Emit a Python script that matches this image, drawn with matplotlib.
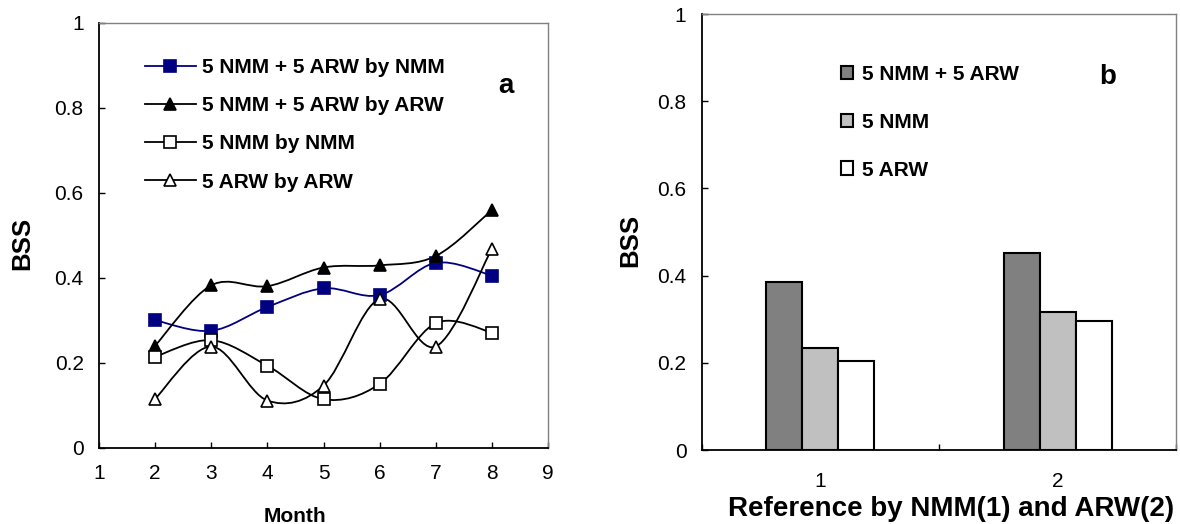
import matplotlib
matplotlib.use("Agg")
import matplotlib.pyplot as plt
from matplotlib.path import Path
from matplotlib.patches import PathPatch
from matplotlib.lines import Line2D
import numpy as np

plt.rcParams['font.family'] = ['Liberation Sans', 'DejaVu Sans']

# ---------------- data ----------------
months = [2, 3, 4, 5, 6, 7, 8]
ens_by_nmm = [0.300, 0.275, 0.331, 0.375, 0.359, 0.435, 0.405]
ens_by_arw = [0.240, 0.382, 0.380, 0.424, 0.429, 0.451, 0.559]
nmm_by_nmm = [0.214, 0.253, 0.193, 0.114, 0.150, 0.293, 0.271]
arw_by_arw = [0.115, 0.238, 0.111, 0.146, 0.350, 0.238, 0.468]
line_labels = ["5 NMM + 5 ARW by NMM", "5 NMM + 5 ARW by ARW",
               "5 NMM by NMM", "5 ARW by ARW"]

ref_cats = [1, 2]
bar_ens = [0.386, 0.451]
bar_nmm = [0.235, 0.317]
bar_arw = [0.204, 0.296]
bar_labels = ["5 NMM + 5 ARW", "5 NMM", "5 ARW"]

y_ticks = [0, 0.2, 0.4, 0.6, 0.8, 1]
y_ticklabels = ["0", "0.2", "0.4", "0.6", "0.8", "1"]

W, H = 1180, 524
fig = plt.figure(figsize=(W / 100, H / 100), dpi=100)

def smooth_path(x, y):
    # Excel-style smoothed line: cubic Bezier (Catmull-Rom, factor 1/6)
    p = np.column_stack([x, y]).astype(float)
    n = len(p)
    verts = [p[0]]
    codes = [Path.MOVETO]
    for i in range(n - 1):
        p0 = p[i - 1] if i > 0 else p[i]
        p1 = p[i]
        p2 = p[i + 1]
        p3 = p[i + 2] if i + 2 < n else p[i + 1]
        c1 = p1 + (p2 - p0) / 6.0
        c2 = p2 - (p3 - p1) / 6.0
        verts += [c1, c2, p2]
        codes += [Path.CURVE4] * 3
    return Path(verts, codes)

def style_axes(ax):
    for s in ['left', 'bottom']:
        ax.spines[s].set_color('black')
        ax.spines[s].set_linewidth(1.3)
    for s in ['top', 'right']:
        ax.spines[s].set_color('#808080')
        ax.spines[s].set_linewidth(1.0)
    ax.tick_params(direction='in', length=4, width=1, labelsize=15,
                   colors='black')
    ax.tick_params(axis='y', pad=11)
    ax.tick_params(axis='x', pad=12)

# ---------------- panel a ----------------
axa = fig.add_axes([99 / W, 1 - 447.7 / H, 449 / W, 425 / H])
series = [
    (ens_by_nmm, '#000080', 's', '#000080', 8),
    (ens_by_arw, 'black', '^', 'black', 9),
    (nmm_by_nmm, 'black', 's', 'white', 8),
    (arw_by_arw, 'black', '^', 'white', 9),
]
handles = []
for (vals, col, mk, fc, ms), lab in zip(series, line_labels):
    axa.add_patch(PathPatch(smooth_path(months, vals), facecolor='none',
                            edgecolor=col, linewidth=1.3, zorder=2))
    axa.plot(months, vals, linestyle='none', marker=mk, markersize=ms,
             markerfacecolor=fc, markeredgecolor=col, markeredgewidth=1.2,
             zorder=3)
    handles.append(Line2D([], [], color=col, linewidth=1.3, marker=mk,
                          markersize=ms, markerfacecolor=fc,
                          markeredgecolor=col, markeredgewidth=1.2, label=lab))
axa.set_xlim(1, 9)
axa.set_ylim(0, 1)
axa.set_xticks(range(1, 10))
axa.set_yticks(y_ticks)
axa.set_yticklabels(y_ticklabels)
style_axes(axa)
axa.legend(handles=handles, loc='upper left',
           bbox_to_anchor=(144.6 / W, 1 - 58.0 / H),
           bbox_transform=fig.transFigure, frameon=False,
           prop={'weight': 'bold', 'size': 15}, handlelength=2.45,
           handletextpad=0.3, labelspacing=0.92, borderpad=0,
           borderaxespad=0)
fig.text(506 / W, 1 - 86 / H, "a", fontsize=20, fontweight='bold',
         ha='center', va='center')
fig.text(22 / W, 1 - 243 / H, "BSS", fontsize=18.5, fontweight='bold',
         rotation=90, ha='center', va='center')
fig.text(295 / W, 1 - 516 / H, "Month", fontsize=15, fontweight='bold',
         ha='center', va='center')

# ---------------- panel b ----------------
axb = fig.add_axes([701.7 / W, 1 - 450 / H, 474.7 / W, 436 / H])
bw = 0.152
x = np.array(ref_cats, dtype=float)
axb.bar(x - bw, bar_ens, width=bw, color='#808080', edgecolor='black',
        linewidth=1.5, label=bar_labels[0], zorder=2)
axb.bar(x, bar_nmm, width=bw, color='#C0C0C0', edgecolor='black',
        linewidth=1.5, label=bar_labels[1], zorder=2)
axb.bar(x + bw, bar_arw, width=bw, color='white', edgecolor='black',
        linewidth=1.5, label=bar_labels[2], zorder=2)
axb.set_xlim(0.5, 2.5)
axb.set_ylim(0, 1)
axb.set_yticks(y_ticks)
axb.set_yticklabels(y_ticklabels)
axb.set_xticks([0.5, 1.5, 2.5])
axb.set_xticklabels([])
axb.set_xticks(ref_cats, minor=True)
axb.set_xticklabels([str(c) for c in ref_cats], minor=True)
style_axes(axb)
axb.tick_params(axis='x', which='minor', length=0, labelsize=15, pad=16)
axb.legend(loc='upper left', bbox_to_anchor=(840.5 / W, 1 - 65.0 / H),
           bbox_transform=fig.transFigure, frameon=False,
           prop={'weight': 'bold', 'size': 15}, handlelength=0.62,
           handleheight=0.62, handletextpad=0.4, labelspacing=1.38,
           borderpad=0, borderaxespad=0)
fig.text(1108 / W, 1 - 77 / H, "b", fontsize=20, fontweight='bold',
         ha='center', va='center')
fig.text(630 / W, 1 - 240 / H, "BSS", fontsize=18.5, fontweight='bold',
         rotation=90, ha='center', va='center')
fig.text(951 / W, 1 - 509 / H, "Reference by NMM(1) and ARW(2)",
         fontsize=20, fontweight='bold', ha='center', va='center')

fig.savefig("out.png", dpi=100)
